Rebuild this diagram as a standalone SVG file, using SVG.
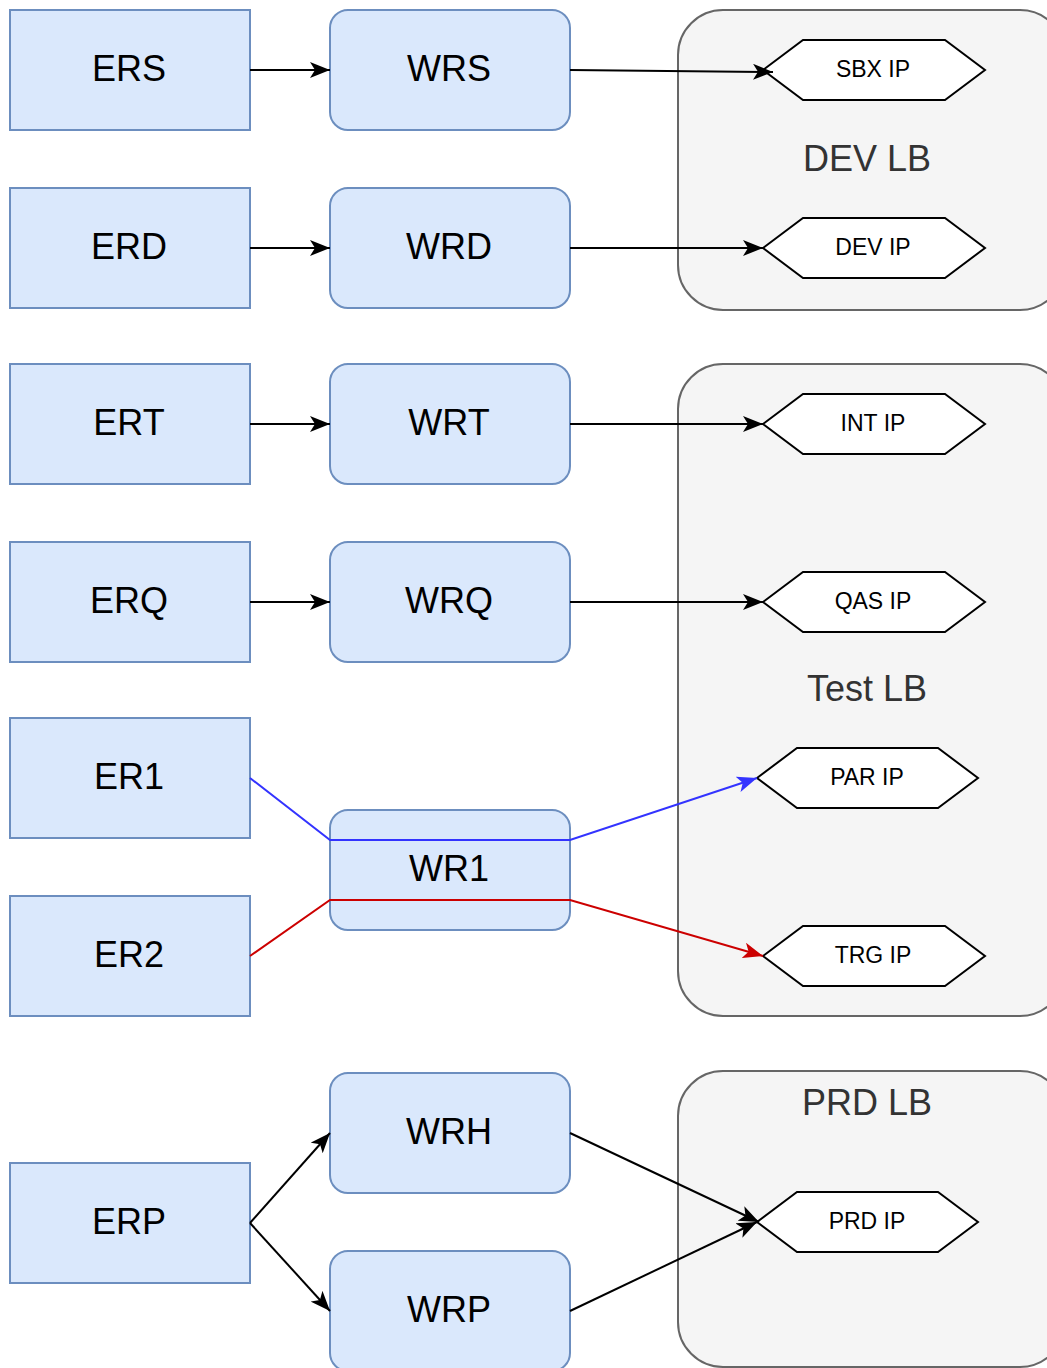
<svg xmlns="http://www.w3.org/2000/svg" width="1047" height="1368" viewBox="0 0 1047 1368">
<defs>
<marker id="ab" viewBox="0 0 20 16" refX="20" refY="8" markerWidth="20" markerHeight="16" markerUnits="userSpaceOnUse" orient="auto"><path d="M0,0 L20,8 L0,16 L5,8 Z" fill="#000"/></marker>
<marker id="abl" viewBox="0 0 20 16" refX="20" refY="8" markerWidth="20" markerHeight="16" markerUnits="userSpaceOnUse" orient="auto"><path d="M0,0 L20,8 L0,16 L5,8 Z" fill="#3333ff"/></marker>
<marker id="are" viewBox="0 0 20 16" refX="20" refY="8" markerWidth="20" markerHeight="16" markerUnits="userSpaceOnUse" orient="auto"><path d="M0,0 L20,8 L0,16 L5,8 Z" fill="#cc0000"/></marker>
</defs>
<style>
.er{fill:#dae8fc;stroke:#6c8ebf;stroke-width:2}
.cont{fill:#f5f5f5;stroke:#666;stroke-width:2}
.hex{fill:#fff;stroke:#000;stroke-width:2}
.t{font-family:"Liberation Sans",Arial,sans-serif;font-size:36px;fill:#000;text-anchor:middle}
.ct{font-family:"Liberation Sans",Arial,sans-serif;font-size:36px;fill:#333;text-anchor:middle}
.ht{font-family:"Liberation Sans",Arial,sans-serif;font-size:23px;fill:#000;text-anchor:middle}
.c{fill:none;stroke:#000;stroke-width:2}
</style>
<rect width="1047" height="1368" fill="#fff"/>
<g id="dev-lb"><rect class="cont" x="678" y="10" width="387" height="300" rx="45"/><text class="ct" x="867" y="171">DEV LB</text></g>
<g id="test-lb"><rect class="cont" x="678" y="364" width="387" height="652" rx="45"/><text class="ct" x="867" y="701">Test LB</text></g>
<g id="prd-lb"><rect class="cont" x="678" y="1071" width="387" height="296" rx="45"/><text class="ct" x="867" y="1115">PRD LB</text></g>

<g id="ers"><rect class="er" x="10" y="10" width="240" height="120"/><text class="t" x="129" y="81">ERS</text></g>
<g id="erd"><rect class="er" x="10" y="188" width="240" height="120"/><text class="t" x="129" y="259">ERD</text></g>
<g id="ert"><rect class="er" x="10" y="364" width="240" height="120"/><text class="t" x="129" y="435">ERT</text></g>
<g id="erq"><rect class="er" x="10" y="542" width="240" height="120"/><text class="t" x="129" y="613">ERQ</text></g>
<g id="er1"><rect class="er" x="10" y="718" width="240" height="120"/><text class="t" x="129" y="789">ER1</text></g>
<g id="er2"><rect class="er" x="10" y="896" width="240" height="120"/><text class="t" x="129" y="967">ER2</text></g>
<g id="erp"><rect class="er" x="10" y="1163" width="240" height="120"/><text class="t" x="129" y="1234">ERP</text></g>

<g id="wrs"><rect class="er" x="330" y="10" width="240" height="120" rx="18"/><text class="t" x="449" y="81">WRS</text></g>
<g id="wrd"><rect class="er" x="330" y="188" width="240" height="120" rx="18"/><text class="t" x="449" y="259">WRD</text></g>
<g id="wrt"><rect class="er" x="330" y="364" width="240" height="120" rx="18"/><text class="t" x="449" y="435">WRT</text></g>
<g id="wrq"><rect class="er" x="330" y="542" width="240" height="120" rx="18"/><text class="t" x="449" y="613">WRQ</text></g>
<g id="wr1"><rect class="er" x="330" y="810" width="240" height="120" rx="18"/><text class="t" x="449" y="881">WR1</text></g>
<g id="wrh"><rect class="er" x="330" y="1073" width="240" height="120" rx="18"/><text class="t" x="449" y="1144">WRH</text></g>
<g id="wrp"><rect class="er" x="330" y="1251" width="240" height="120" rx="18"/><text class="t" x="449" y="1322">WRP</text></g>

<g id="sbx-ip"><polygon class="hex" points="763,70 803,40 945,40 985,70 945,100 803,100"/><text class="ht" x="873" y="77">SBX IP</text></g>
<g id="dev-ip"><polygon class="hex" points="763,248 803,218 945,218 985,248 945,278 803,278"/><text class="ht" x="873" y="255">DEV IP</text></g>
<g id="int-ip"><polygon class="hex" points="763,424 803,394 945,394 985,424 945,454 803,454"/><text class="ht" x="873" y="431">INT IP</text></g>
<g id="qas-ip"><polygon class="hex" points="763,602 803,572 945,572 985,602 945,632 803,632"/><text class="ht" x="873" y="609">QAS IP</text></g>
<g id="par-ip"><polygon class="hex" points="757,778 797,748 938,748 978,778 938,808 797,808"/><text class="ht" x="867" y="785">PAR IP</text></g>
<g id="trg-ip"><polygon class="hex" points="763,956 803,926 945,926 985,956 945,986 803,986"/><text class="ht" x="873" y="963">TRG IP</text></g>
<g id="prd-ip"><polygon class="hex" points="757,1222 797,1192 938,1192 978,1222 938,1252 797,1252"/><text class="ht" x="867" y="1229">PRD IP</text></g>

<g id="connectors">
<line class="c" x1="250" y1="70" x2="330" y2="70" marker-end="url(#ab)"/>
<line class="c" x1="250" y1="248" x2="330" y2="248" marker-end="url(#ab)"/>
<line class="c" x1="250" y1="424" x2="330" y2="424" marker-end="url(#ab)"/>
<line class="c" x1="250" y1="602" x2="330" y2="602" marker-end="url(#ab)"/>
<line class="c" x1="570" y1="70" x2="773" y2="72" marker-end="url(#ab)"/>
<line class="c" x1="570" y1="248" x2="763" y2="248" marker-end="url(#ab)"/>
<line class="c" x1="570" y1="424" x2="763" y2="424" marker-end="url(#ab)"/>
<line class="c" x1="570" y1="602" x2="763" y2="602" marker-end="url(#ab)"/>
<polyline fill="none" stroke="#3333ff" stroke-width="2" points="250,778 330,840 570,840 757,778" marker-end="url(#abl)"/>
<polyline fill="none" stroke="#cc0000" stroke-width="2" points="250,956 330,900 570,900 763,956" marker-end="url(#are)"/>
<line class="c" x1="250" y1="1223" x2="330" y2="1133" marker-end="url(#ab)"/>
<line class="c" x1="250" y1="1223" x2="330" y2="1311" marker-end="url(#ab)"/>
<line class="c" x1="570" y1="1133" x2="759" y2="1222" marker-end="url(#ab)"/>
<line class="c" x1="570" y1="1311" x2="757" y2="1222" marker-end="url(#ab)"/>
</g>
</svg>
